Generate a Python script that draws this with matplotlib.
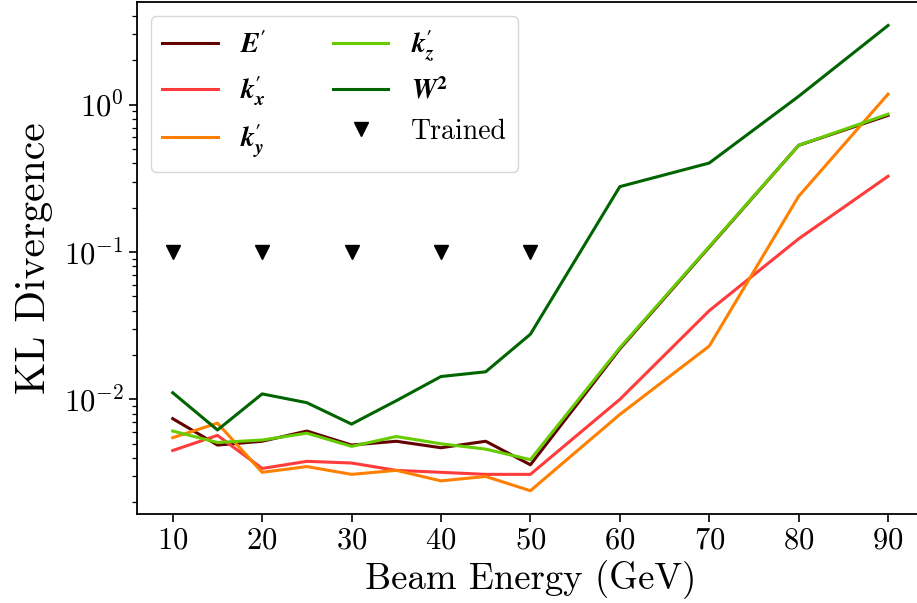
import matplotlib
matplotlib.use("Agg")
import matplotlib.pyplot as plt
from matplotlib.font_manager import FontProperties

plt.rcParams["font.family"] = ["cmr10"]
plt.rcParams["mathtext.fontset"] = "cm"
plt.rcParams["axes.formatter.use_mathtext"] = True
plt.rcParams["axes.unicode_minus"] = True

# Beam energies (GeV)
energy = [10, 15, 20, 25, 30, 35, 40, 45, 50, 60, 70, 80, 90]
trained_energy = [10, 20, 30, 40, 50]
trained_level = 0.1

# KL divergence per observable
kl_E = [0.0074, 0.0049, 0.0052, 0.0061, 0.0049, 0.0052, 0.0047, 0.0052, 0.0036, 0.0220, 0.108, 0.53, 0.846]
kl_kx = [0.0045, 0.0057, 0.0034, 0.0038, 0.0037, 0.0033, 0.0032, 0.0031, 0.0031, 0.0100, 0.040, 0.123, 0.327]
kl_ky = [0.0055, 0.0069, 0.0032, 0.0035, 0.0031, 0.0033, 0.0028, 0.0030, 0.0024, 0.0079, 0.023, 0.239, 1.18]
kl_kz = [0.0061, 0.0051, 0.0053, 0.0059, 0.0048, 0.0056, 0.0050, 0.0046, 0.0039, 0.0224, 0.109, 0.53, 0.863]
kl_W2 = [0.0111, 0.0062, 0.0109, 0.0095, 0.0068, 0.0098, 0.0143, 0.0154, 0.0277, 0.278, 0.402, 1.14, 3.45]

series = [
    (kl_E, "#630000", r"$\mathbfit{E}^{\mathbf{\prime}}$"),
    (kl_kx, "#ff3b3b", r"$\mathbfit{k}^{\mathbf{\prime}}_{\mathbfit{x}}$"),
    (kl_ky, "#ff8000", r"$\mathbfit{k}^{\mathbf{\prime}}_{\mathbfit{y}}$"),
    (kl_kz, "#66cc00", r"$\mathbfit{k}^{\mathbf{\prime}}_{\mathbfit{z}}$"),
    (kl_W2, "#006400", r"$\mathbfit{W}^{\mathbf{2}}$"),
]

fig = plt.figure(figsize=(9.17, 6.03), dpi=100)
ax = fig.add_axes([0.1494, 0.1476, 0.858, 0.8487])

for vals, color, label in series:
    ax.plot(energy, vals, color=color, lw=2.2, label=label)

ax.plot(trained_energy, [trained_level] * len(trained_energy), linestyle="none",
        marker="v", markersize=10, color="black", label="Trained")

ax.set_yscale("log")
ax.set_xticks([10, 20, 30, 40, 50, 60, 70, 80, 90])
ax.set_xlabel("Beam Energy (GeV)", fontsize=26.5)
ax.set_ylabel("KL Divergence", fontsize=30, labelpad=8)
ax.tick_params(axis="both", which="major", labelsize=22, length=6, width=1.2)
ax.tick_params(axis="both", which="minor", length=3.5, width=0.9)
for sp in ax.spines.values():
    sp.set_linewidth(1.3)

legend_font = FontProperties(family="cmr10", size=20, math_fontfamily="stix")
ax.legend(ncol=2, loc="upper left", prop=legend_font, columnspacing=2.4)

fig.savefig("out.png", dpi=100)
